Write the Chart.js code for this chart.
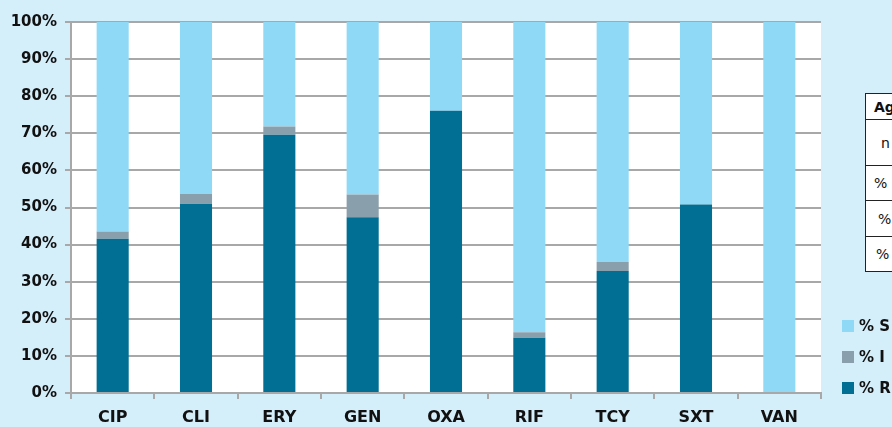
<!DOCTYPE html>
<html lang="en">
  <head>
    <meta charset="UTF-8" />
    <title>Antibiotic susceptibility</title>
    <script src="https://cdn.jsdelivr.net/npm/chart.js"></script>
    <style>
      html, body {
        margin: 0;
        padding: 0;
        background: #d4eefa;
        overflow: hidden;
      }
      body {
        width: 892px;
        height: 427px;
        position: relative;
        font-family: "DejaVu Sans", sans-serif;
      }
      canvas {
        position: absolute;
        left: 0;
        top: 0;
      }
      .legend {
        position: absolute;
        left: 842px;
        top: 320px;
        font-weight: bold;
        font-size: 15px;
        color: #111;
      }
      .legend div {
        height: 31px;
        display: flex;
        align-items: flex-start;
        white-space: nowrap;
      }
      .legend span.box {
        display: inline-block;
        width: 12px;
        height: 12px;
        margin-right: 5px;
      }
      .legend span.txt {
        line-height: 12px;
      }
      table.info {
        position: absolute;
        left: 865px;
        top: 93px;
        border-collapse: collapse;
        background: #fff;
        font-size: 14px;
        color: #111;
      }
      table.info td {
        border: 1px solid #222;
        padding: 0 0 0 8px;
        width: 80px;
        white-space: nowrap;
      }
    </style>
  </head>
  <body>
    <canvas id="chartCanvas" width="892" height="427"></canvas>

    <table class="info">
      <tr style="height: 26px"><td style="font-weight: bold">Agent</td></tr>
      <tr style="height: 46px"><td style="padding-left: 15px">n</td></tr>
      <tr style="height: 35px"><td>% S</td></tr>
      <tr style="height: 36px"><td style="padding-left: 12px">% I</td></tr>
      <tr style="height: 35px"><td style="padding-left: 10px">% R</td></tr>
    </table>

    <div class="legend" id="legend"></div>

    <script>
      const antibiotics = ["CIP", "CLI", "ERY", "GEN", "OXA", "RIF", "TCY", "SXT", "VAN"];
      const pctR = [41.6, 51.0, 69.6, 47.4, 76.1, 14.9, 32.9, 50.8, 0];
      const pctI = [1.9, 2.7, 2.2, 6.1, 0, 1.5, 2.4, 0, 0];
      const pctS = [56.5, 46.3, 28.2, 46.5, 23.9, 83.6, 64.7, 49.2, 100];
      const yTicks = [0, 10, 20, 30, 40, 50, 60, 70, 80, 90, 100];

      const colS = "#8fd9f6";
      const colI = "#8a9fac";
      const colR = "#006f93";
      const gridCol = "#a8a8a8";

      // white plot area on the blue page
      const plotBg = {
        id: "plotBg",
        beforeDraw(chart) {
          const a = chart.chartArea;
          const c = chart.ctx;
          c.save();
          c.fillStyle = "#ffffff";
          c.fillRect(a.left, a.top, a.right - a.left, a.bottom - a.top);
          c.restore();
        },
      };

      const datasets = [
        { label: "% R", data: pctR, backgroundColor: colR },
        { label: "% I", data: pctI, backgroundColor: colI },
        { label: "% S", data: pctS, backgroundColor: colS },
      ];

      const ctx = document.getElementById("chartCanvas").getContext("2d");
      const chart = new Chart(ctx, {
        type: "bar",
        data: {
          labels: antibiotics,
          datasets: datasets.map((d) => ({
            ...d,
            borderWidth: 0,
            categoryPercentage: 1,
            barPercentage: 0.385,
          })),
        },
        options: {
          responsive: false,
          animation: false,
          devicePixelRatio: 1,
          layout: { padding: { top: 22, right: 71, left: 0, bottom: 0 } },
          plugins: {
            legend: { display: false },
            tooltip: { enabled: false },
          },
          scales: {
            x: {
              stacked: true,
              grid: {
                offset: true,
                drawOnChartArea: false,
                drawTicks: true,
                tickLength: 6,
                color: gridCol,
                lineWidth: 2,
              },
              border: { color: gridCol, width: 2 },
              ticks: {
                color: "#111",
                padding: 9,
                font: { family: "DejaVu Sans", size: 16, weight: "bold" },
              },
              afterFit(s) {
                s.height = 34;
              },
            },
            y: {
              stacked: true,
              min: 0,
              max: 100,
              afterBuildTicks(s) {
                s.ticks = yTicks.map((v) => ({ value: v }));
              },
              grid: { color: gridCol, lineWidth: 2, tickLength: 6 },
              border: { color: gridCol, width: 2 },
              ticks: {
                color: "#111",
                padding: 8,
                font: { family: "DejaVu Sans", size: 15, weight: "bold" },
                callback: (v) => v + "%",
              },
              afterFit(s) {
                s.width = 71;
              },
            },
          },
        },
        plugins: [plotBg],
      });

      // legend: S on top, R at the bottom
      const legend = document.getElementById("legend");
      datasets
        .slice()
        .reverse()
        .forEach((d) => {
          const row = document.createElement("div");
          row.innerHTML =
            '<span class="box" style="background:' + d.backgroundColor + '"></span>' +
            '<span class="txt">' + d.label + "</span>";
          legend.appendChild(row);
        });
    </script>
  </body>
</html>
